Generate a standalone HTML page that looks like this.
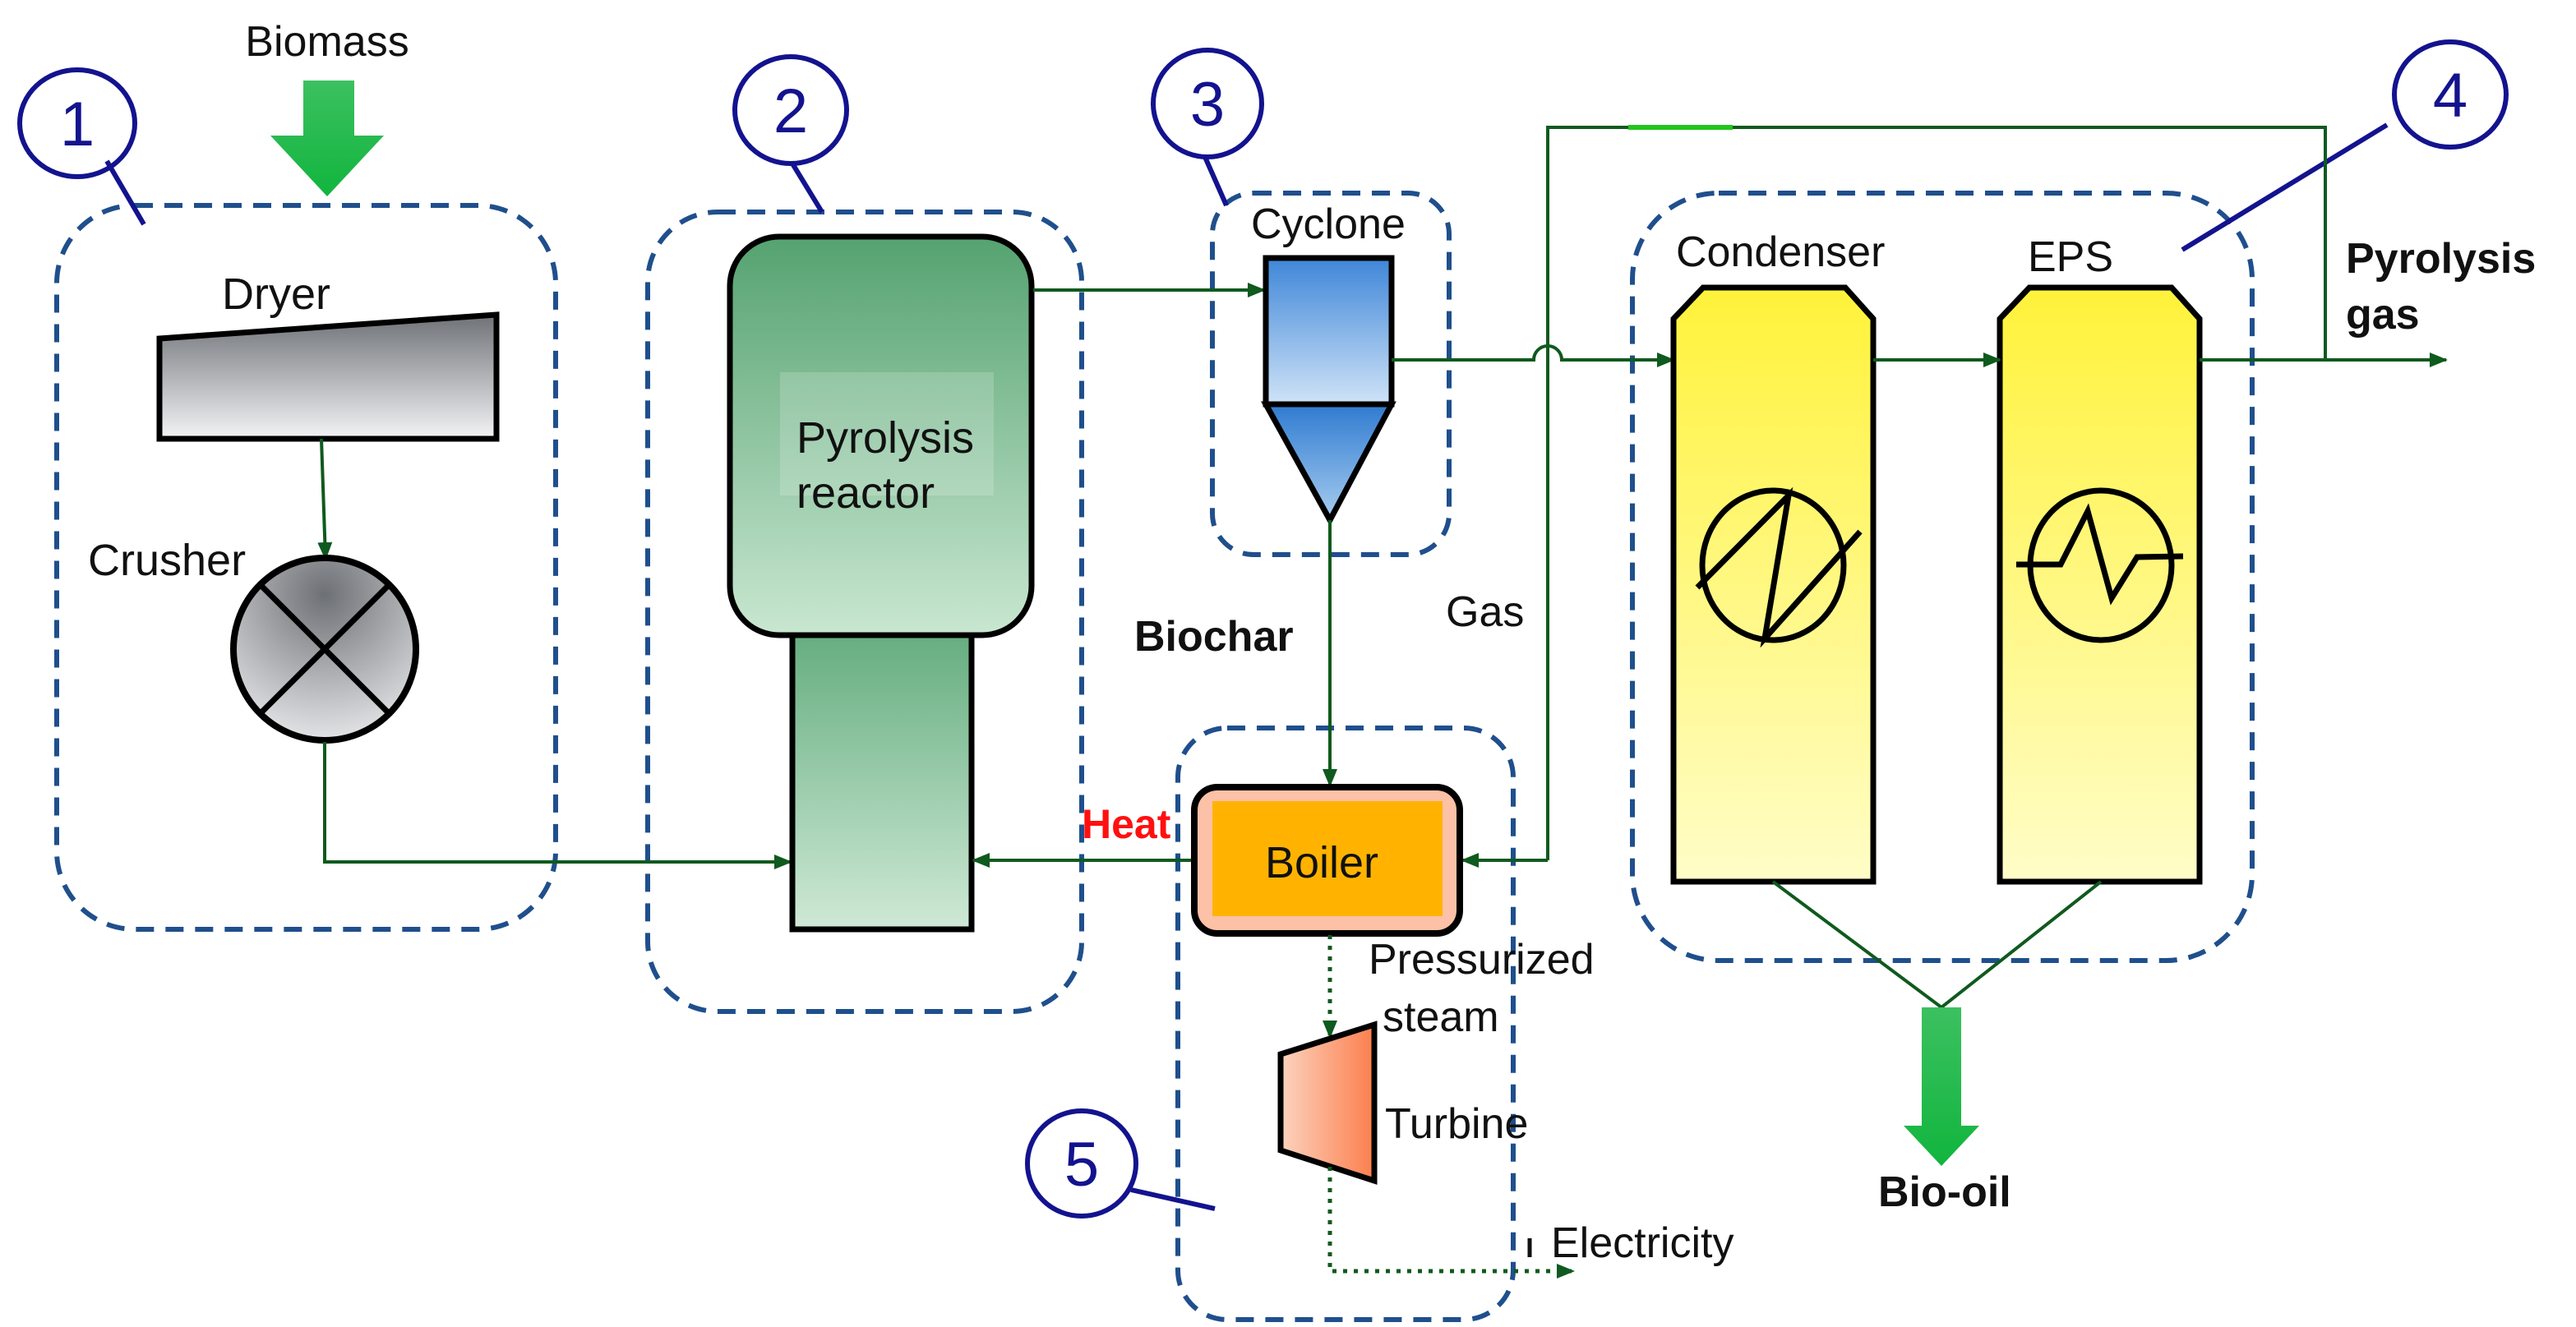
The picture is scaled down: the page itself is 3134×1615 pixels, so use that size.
<!DOCTYPE html>
<html><head><meta charset="utf-8"><style>
html,body{margin:0;padding:0;background:#fff;}
svg{display:block;}
text{font-family:"Liberation Sans",Arial,sans-serif;}
</style></head><body>
<svg width="3134" height="1615" viewBox="0 0 3134 1615" xmlns="http://www.w3.org/2000/svg">
<defs>
<linearGradient id="gray" x1="0" y1="0" x2="0" y2="1"><stop offset="0" stop-color="#6e7277"/><stop offset="1" stop-color="#f4f4f6"/></linearGradient>
<linearGradient id="green" x1="0" y1="0" x2="0" y2="1"><stop offset="0" stop-color="#55a270"/><stop offset="1" stop-color="#c9e7d1"/></linearGradient>
<linearGradient id="green2" x1="0" y1="0" x2="0" y2="1"><stop offset="0" stop-color="#66ae80"/><stop offset="1" stop-color="#cfe9d6"/></linearGradient>
<linearGradient id="blue" x1="0" y1="0" x2="0" y2="1"><stop offset="0" stop-color="#3f86d8"/><stop offset="1" stop-color="#cfe3f7"/></linearGradient>
<linearGradient id="blue2" x1="0" y1="0" x2="0" y2="1"><stop offset="0" stop-color="#2f7bd0"/><stop offset="1" stop-color="#a8cdf0"/></linearGradient>
<linearGradient id="yel" x1="0" y1="0" x2="0" y2="1"><stop offset="0" stop-color="#fff23a"/><stop offset="1" stop-color="#fffdc8"/></linearGradient>
<linearGradient id="tur" x1="0" y1="0" x2="1" y2="0"><stop offset="0" stop-color="#fdd3bf"/><stop offset="1" stop-color="#fb7e4c"/></linearGradient>
<radialGradient id="crush" cx="0.5" cy="0.2" r="0.9"><stop offset="0" stop-color="#6d7075"/><stop offset="1" stop-color="#f2f2f4"/></radialGradient>
<linearGradient id="arr" x1="0" y1="0" x2="0" y2="1"><stop offset="0" stop-color="#3cc060"/><stop offset="1" stop-color="#11b53e"/></linearGradient>
<marker id="ah" markerWidth="8" markerHeight="8" refX="7" refY="4" orient="auto" markerUnits="userSpaceOnUse" viewBox="0 0 8 8"><path d="M0,0 L8,4 L0,8 z" fill="#0f5a1e"/></marker>
<marker id="ahb" markerWidth="22" markerHeight="18" refX="20" refY="9" orient="auto" markerUnits="userSpaceOnUse"><path d="M0,0 L22,9 L0,18 z" fill="#0f5a1e"/></marker>
</defs>

<!-- dashed boxes -->
<g fill="none" stroke="#1f4f8c" stroke-width="6" stroke-dasharray="22,14">
<rect x="69" y="250" width="607" height="881" rx="95"/>
<rect x="788" y="258" width="528" height="973" rx="85"/>
<rect x="1475" y="235" width="288" height="440" rx="50"/>
<rect x="1986" y="235" width="754" height="934" rx="105"/>
<rect x="1433" y="886" width="408" height="720" rx="60"/>
</g>

<!-- number circles -->
<g fill="none" stroke="#13138f" stroke-width="6">
<ellipse cx="94" cy="150" rx="70" ry="65"/>
<line x1="130" y1="196" x2="175" y2="273"/>
<ellipse cx="962" cy="134" rx="68" ry="65"/>
<line x1="964" y1="199" x2="1000" y2="258"/>
<ellipse cx="1469" cy="126" rx="66" ry="65"/>
<line x1="1466" y1="191" x2="1492" y2="250"/>
<ellipse cx="2981" cy="115" rx="68" ry="64"/>
<line x1="2904" y1="152" x2="2655" y2="304"/>
<ellipse cx="1316" cy="1416" rx="66" ry="64"/>
<line x1="1376" y1="1448" x2="1478" y2="1471"/>
</g>
<g fill="#13138f" font-size="76" text-anchor="middle">
<text x="94" y="177">1</text>
<text x="962" y="161">2</text>
<text x="1469" y="153">3</text>
<text x="2981" y="142">4</text>
<text x="1316" y="1443">5</text>
</g>

<!-- biomass arrow -->
<text x="398" y="68" font-size="52" text-anchor="middle" fill="#111">Biomass</text>
<polygon points="369,98 431,98 431,165 467,165 398,239 329,165 369,165" fill="url(#arr)"/>

<!-- dryer -->
<text x="270" y="376" font-size="54" fill="#111">Dryer</text>
<polygon points="194,412 604,383 604,534 194,534" fill="url(#gray)" stroke="#000" stroke-width="7"/>
<line x1="391" y1="534" x2="396" y2="680" stroke="#0f5a1e" stroke-width="4" marker-end="url(#ahb)"/>
<text x="107" y="700" font-size="54" fill="#111">Crusher</text>
<circle cx="395" cy="790" r="111" fill="url(#crush)" stroke="#000" stroke-width="8"/>
<line x1="317" y1="712" x2="473" y2="868" stroke="#000" stroke-width="7"/>
<line x1="473" y1="712" x2="317" y2="868" stroke="#000" stroke-width="7"/>
<polyline points="395,903 395,1049 962,1049" fill="none" stroke="#0f5a1e" stroke-width="4" marker-end="url(#ahb)"/>

<!-- reactor -->
<rect x="888" y="288" width="367" height="485" rx="60" fill="url(#green)" stroke="#000" stroke-width="7"/>
<rect x="949" y="453" width="260" height="150" fill="#ffffff" fill-opacity="0.18"/>
<rect x="964" y="773" width="218" height="358" fill="url(#green2)" stroke="#000" stroke-width="7"/>
<text x="969" y="551" font-size="54" fill="#111">Pyrolysis</text>
<text x="969" y="618" font-size="54" fill="#111">reactor</text>
<line x1="1257" y1="353" x2="1538" y2="353" stroke="#0f5a1e" stroke-width="4" marker-end="url(#ahb)"/>

<!-- cyclone -->
<text x="1522" y="290" font-size="52" fill="#111">Cyclone</text>
<rect x="1540" y="314" width="153" height="178" fill="url(#blue)" stroke="#000" stroke-width="7"/>
<polygon points="1540,492 1693,492 1618,633" fill="url(#blue2)" stroke="#000" stroke-width="7"/>
<line x1="1618" y1="633" x2="1618" y2="956" stroke="#0f5a1e" stroke-width="4" marker-end="url(#ahb)"/>
<text x="1380" y="792" font-size="52" font-weight="bold" fill="#111">Biochar</text>

<!-- main gas line with hop -->
<path d="M1693,438 L1866,438 A17,17 0 0 1 1900,438 L2036,438" fill="none" stroke="#0f5a1e" stroke-width="4" marker-end="url(#ahb)"/>
<!-- gas loop -->
<polyline points="1883,1047 1883,155 2829,155 2829,438" fill="none" stroke="#0f5a1e" stroke-width="4"/>
<line x1="1981" y1="155" x2="2108" y2="155" stroke="#22c51e" stroke-width="6"/>
<line x1="1883" y1="1047" x2="1779" y2="1047" stroke="#0f5a1e" stroke-width="4" marker-end="url(#ahb)"/>
<text x="1759" y="762" font-size="52" fill="#111">Gas</text>

<!-- vessels -->
<text x="2039" y="324" font-size="52" fill="#111">Condenser</text>
<text x="2467" y="330" font-size="52" fill="#111">EPS</text>
<polygon points="2072,350 2245,350 2279,388 2279,1073 2036,1073 2036,388" fill="url(#yel)" stroke="#000" stroke-width="7"/>
<polygon points="2469,350 2642,350 2676,388 2676,1073 2433,1073 2433,388" fill="url(#yel)" stroke="#000" stroke-width="7"/>
<line x1="2279" y1="438" x2="2433" y2="438" stroke="#0f5a1e" stroke-width="4" marker-end="url(#ahb)"/>
<line x1="2676" y1="438" x2="2976" y2="438" stroke="#0f5a1e" stroke-width="4" marker-end="url(#ahb)"/>
<text x="2854" y="332" font-size="52" font-weight="bold" fill="#111">Pyrolysis</text>
<text x="2854" y="400" font-size="52" font-weight="bold" fill="#111">gas</text>
<g fill="none" stroke="#000" stroke-width="7">
<ellipse cx="2157" cy="688" rx="86" ry="91"/>
<polyline points="2065,715 2176,603 2147,777 2263,647"/>
<ellipse cx="2556" cy="688" rx="86" ry="91"/>
<polyline points="2453,687 2507,687 2540,622 2569,728 2600,678 2656,677"/>
</g>
<polyline points="2157,1073 2362,1226 2556,1073" fill="none" stroke="#0f5a1e" stroke-width="4"/>
<polygon points="2338,1226 2386,1226 2386,1370 2408,1370 2362,1419 2316,1370 2338,1370" fill="url(#arr)"/>
<text x="2285" y="1468" font-size="52" font-weight="bold" fill="#111">Bio-oil</text>

<!-- boiler -->
<text x="1316" y="1020" font-size="50" font-weight="bold" fill="#ff1010">Heat</text>
<line x1="1450" y1="1047" x2="1184" y2="1047" stroke="#0f5a1e" stroke-width="4" marker-end="url(#ahb)"/>
<rect x="1453" y="958" width="323" height="178" rx="28" fill="#fcc1a6" stroke="#000" stroke-width="8"/>
<rect x="1475" y="975" width="280" height="140" fill="#ffb300"/>
<text x="1608" y="1068" font-size="54" text-anchor="middle" fill="#111">Boiler</text>
<polyline points="1618,1138 1618,1262" fill="none" stroke="#0f5a1e" stroke-width="5" stroke-dasharray="5,8" marker-end="url(#ahb)"/>
<text x="1665" y="1185" font-size="52" fill="#111">Pressurized</text>
<text x="1682" y="1255" font-size="52" fill="#111">steam</text>
<polygon points="1558,1283 1672,1247 1672,1437 1558,1400" fill="url(#tur)" stroke="#000" stroke-width="7"/>
<text x="1685" y="1385" font-size="52" fill="#111">Turbine</text>
<polyline points="1618,1420 1618,1547 1914,1547" fill="none" stroke="#0f5a1e" stroke-width="5" stroke-dasharray="5,8" marker-end="url(#ahb)"/>
<line x1="1861" y1="1507" x2="1861" y2="1530" stroke="#111" stroke-width="5"/>
<text x="1887" y="1530" font-size="52" fill="#111">Electricity</text>
</svg>
</body></html>
